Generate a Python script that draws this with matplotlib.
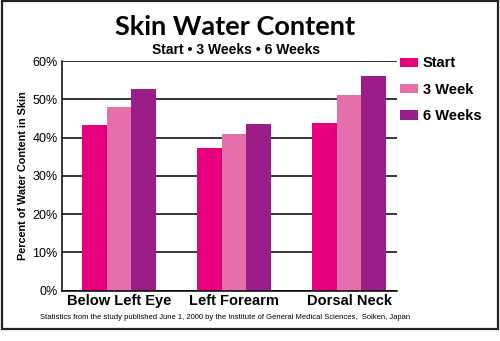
import matplotlib
matplotlib.use("Agg")
import matplotlib.pyplot as plt
from matplotlib.patches import Rectangle
import numpy as np

# skin water content (%) by site and time point
sites = ["Below Left Eye", "Left Forearm", "Dorsal Neck"]
series = ["Start", "3 Week", "6 Weeks"]
start = [43.3, 37.4, 43.7]
week3 = [48.0, 40.9, 51.2]
week6 = [52.6, 43.5, 56.2]
colors = ["#E6007E", "#E46FAA", "#9B1D87"]
yticks = [0, 10, 20, 30, 40, 50, 60]

plt.rcParams["font.family"] = ["Liberation Sans", "DejaVu Sans"]

fig = plt.figure(figsize=(5, 3.41), dpi=100)
ax = fig.add_axes([0.1234, 0.1475, 0.6716, 0.6735])

x = np.arange(len(sites))
w = 0.213
for i, (vals, c, lab) in enumerate(zip([start, week3, week6], colors, series)):
    ax.bar(x + (i - 1) * w, vals, w, color=c, label=lab, zorder=2)

ax.set_xlim(-0.5, 2.42)
ax.set_ylim(0, 60)
ax.set_yticks(yticks)
ax.set_yticklabels([f"{t}%" for t in yticks], fontsize=9)
ax.yaxis.grid(True, color="black", lw=1.1, zorder=1)
ax.set_axisbelow(True)
ax.tick_params(axis="y", length=0, pad=3)
ax.tick_params(axis="x", length=0, pad=2.5)
ax.set_xticks(x)
ax.set_xticklabels(sites, fontsize=10.5, fontweight="bold")
for s in ["top", "right"]:
    ax.spines[s].set_visible(False)
ax.spines["left"].set_linewidth(1.1)
ax.spines["bottom"].set_linewidth(1.1)
ax.set_ylabel("Percent of Water Content in Skin", fontweight="bold",
              fontsize=7.8, labelpad=3)

ax.legend(loc="upper left", bbox_to_anchor=(1.007, 1.02), frameon=False,
          borderpad=0, borderaxespad=0, handlelength=1.22, handleheight=0.6,
          handletextpad=0.35, labelspacing=0.85,
          prop={"weight": "bold", "size": 10.5})

fig.text(0.47, 0.921, "Skin Water Content", ha="center", va="center",
         fontsize=19.5, fontweight="bold", family=["Lato", "DejaVu Sans"])
fig.text(0.473, 0.853, "Start \u2022 3 Weeks \u2022 6 Weeks", ha="center",
         va="center", fontsize=10, fontweight="bold")
fig.text(0.08, 0.068, "Statistics from the study published June 1, 2000 by the "
         "Institute of General Medical Sciences,  Soiken, Japan",
         ha="left", va="center", fontsize=5.5)

fig.patches.append(Rectangle((0.003, 0.034), 0.992, 0.962, transform=fig.transFigure,
                             fill=False, ec="#222222", lw=1.6))

fig.savefig("out.png", dpi=100)
